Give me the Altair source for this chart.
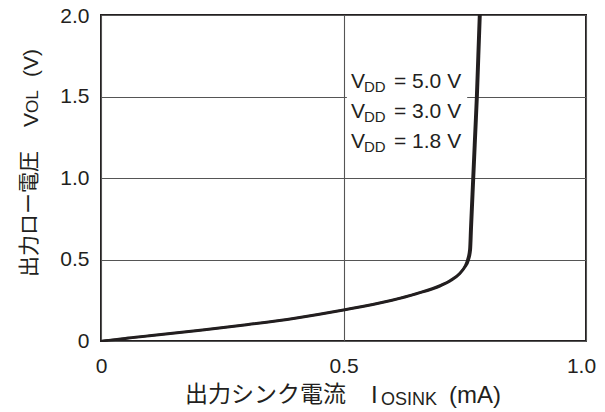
import altair as alt
import pandas as pd

# ---- data ----
x_30 = [0, 0.05, 0.1, 0.2, 0.3, 0.4, 0.5, 0.6, 0.65, 0.7, 0.72, 0.74, 0.75, 0.757, 0.761, 0.763, 0.766, 0.769, 0.772, 0.775, 0.778, 0.781]
v_30 = [0, 0.016, 0.032, 0.065, 0.10, 0.14, 0.19, 0.25, 0.29, 0.34, 0.37, 0.415, 0.455, 0.50, 0.56, 0.70, 0.90, 1.10, 1.30, 1.50, 1.75, 2.0]
x_50 = [0, 0.05, 0.1, 0.2, 0.3, 0.4, 0.5, 0.6, 0.65, 0.7, 0.72, 0.74, 0.75, 0.759, 0.763, 0.765, 0.768, 0.771, 0.774, 0.777, 0.780, 0.783]
v_50 = [0, 0.013, 0.029, 0.062, 0.097, 0.137, 0.187, 0.247, 0.287, 0.336, 0.366, 0.41, 0.448, 0.50, 0.56, 0.70, 0.90, 1.10, 1.30, 1.50, 1.75, 2.0]
x_18 = [0, 0.05, 0.1, 0.2, 0.3, 0.4, 0.5, 0.6, 0.65, 0.7, 0.72, 0.74, 0.75, 0.755, 0.759, 0.761, 0.764, 0.767, 0.770, 0.773, 0.776, 0.779]
v_18 = [0, 0.019, 0.035, 0.068, 0.103, 0.143, 0.193, 0.253, 0.293, 0.344, 0.374, 0.42, 0.46, 0.50, 0.56, 0.70, 0.90, 1.10, 1.30, 1.50, 1.75, 2.0]

series_labels = ["5.0", "3.0", "1.8"]
x_ticks = [0, 0.5, 1.0]
y_ticks = [0, 0.5, 1.0, 1.5, 2.0]

rows = []
for lab, xs, vs in [("5.0", x_50, v_50), ("3.0", x_30, v_30), ("1.8", x_18, v_18)]:
    for a, b in zip(xs, vs):
        rows.append({"series": lab, "i": a, "v": b})
df = pd.DataFrame(rows)

LATIN = "Liberation Sans"
CJK = "Noto Sans CJK JP"
INK = "#231f20"

xscale = alt.Scale(domain=[0, 1], nice=False, zero=False)
yscale = alt.Scale(domain=[0, 2], nice=False, zero=False)
lab_expr = "datum.value == 0 ? '0' : format(datum.value, '.1f')"

x_enc = alt.X("i:Q", scale=xscale, title=None,
              axis=alt.Axis(values=x_ticks, labelExpr=lab_expr, grid=True, ticks=False,
                            domain=False, labelPadding=14, labelFontSize=21,
                            labelFont=LATIN, labelColor=INK, gridColor="#555555",
                            gridWidth=1.1, labelFlush=False,
                            labelOffset={"condition": {"test": "datum.value == 1", "value": -5}, "value": 0}))
y_enc = alt.Y("v:Q", scale=yscale, title=None,
              axis=alt.Axis(values=y_ticks, labelExpr=lab_expr, grid=True, ticks=False,
                            domain=False, labelPadding=12, labelFontSize=21,
                            labelFont=LATIN, labelColor=INK, gridColor="#555555",
                            gridWidth=1.1, labelFlush=False,
                            labelOffset={"condition": {"test": "datum.value == 2", "value": 1}, "value": 0}))

lines = alt.Chart(df).mark_line(color=INK, strokeWidth=2, interpolate="monotone").encode(
    x=x_enc, y=y_enc, detail="series:N"
)

# white box behind the legend text
box_df = pd.DataFrame({"x0": [0.507], "x1": [0.755], "y0": [1.15], "y1": [1.6]})
box = alt.Chart(box_df).mark_rect(color="white").encode(
    x=alt.X("x0:Q", scale=xscale), x2="x1:Q",
    y=alt.Y("y0:Q", scale=yscale), y2="y1:Q",
)

# legend text (pixel layout relative to the plot area)
leg_rows = []
for k, lab in enumerate(series_labels):
    base = 73 + 30 * k
    leg_rows.append({"t": "V", "px": 250, "py": base, "fs": 21})
    leg_rows.append({"t": "DD", "px": 263, "py": base + 4, "fs": 15})
    leg_rows.append({"t": "= " + lab + " V", "px": 293, "py": base, "fs": 21})
leg_df = pd.DataFrame(leg_rows)
legend = alt.Chart(leg_df).mark_text(font=LATIN, color=INK, align="left", baseline="alphabetic").encode(
    x=alt.X("px:Q", scale=None), y=alt.Y("py:Q", scale=None),
    text="t:N", size=alt.Size("fs:Q", scale=None, legend=None),
)

# x-axis title
xt_cjk = pd.DataFrame({"t": ["出力シンク電流"], "px": [84], "py": [387], "fs": [23]})
xt_lat = pd.DataFrame({"t": ["I", "OSINK", "(mA)"], "px": [270, 280, 348], "py": [388, 390, 388], "fs": [24, 18, 24]})
# y-axis title (rotated)
yt_cjk = pd.DataFrame({"t": ["出力ロー電圧"], "px": [-65], "py": [262], "fs": [21]})
yt_lat = pd.DataFrame({"t": ["V", "OL", "(V)"], "px": [-63.5, -63.5, -63.5], "py": [112, 98, 62], "fs": [21, 17, 21]})


def txt(d, font, angle=0):
    kw = dict(font=font, color=INK, align="left", baseline="alphabetic")
    if angle:
        kw["angle"] = angle
    return alt.Chart(d).mark_text(**kw).encode(
        x=alt.X("px:Q", scale=None), y=alt.Y("py:Q", scale=None),
        text="t:N", size=alt.Size("fs:Q", scale=None, legend=None),
    )


chart = alt.layer(
    box, lines, legend,
    txt(xt_cjk, CJK), txt(xt_lat, LATIN),
    txt(yt_cjk, CJK, 270), txt(yt_lat, LATIN, 270),
).properties(
    width=485, height=326,
    autosize=alt.AutoSizeParams(type="none"),
    padding={"left": 93, "top": 7, "right": 11, "bottom": 70},
    background="white",
).configure_view(stroke=INK, strokeWidth=2)

chart.save("out.html", embed_options={"renderer": "svg", "actions": False})
